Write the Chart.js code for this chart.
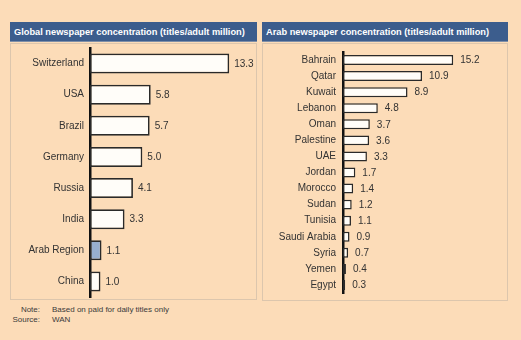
<!DOCTYPE html>
<html>
<head>
<meta charset="utf-8">
<script src="https://cdn.jsdelivr.net/npm/chart.js@4/dist/chart.umd.min.js"></script>
<style>
  html, body { margin:0; padding:0; }
  body { width:521px; height:340px; background:#fcdcb8; position:relative; overflow:hidden; font-family:"Liberation Sans", Arial, sans-serif; }
  .hdr { position:absolute; top:22px; height:20px; background:#3c5d8d; color:#fff; font-weight:bold; font-size:9.25px; line-height:20px; box-sizing:border-box; padding-left:4px; white-space:nowrap; border-bottom:1px solid #7f8fa8; }
  .panel { position:absolute; top:43px; border:1px solid #dcc6ad; box-sizing:border-box; }
  .cv { position:absolute; }
  .note { position:absolute; font-size:8px; color:#3a3a3a; white-space:nowrap; }
</style>
</head>
<body>
<div class="hdr" style="left:10px;width:247px;">Global newspaper concentration (titles/adult million)</div>
<div class="hdr" style="left:262px;width:246px;">Arab newspaper concentration (titles/adult million)</div>
<div class="panel" style="left:10px;width:247px;height:257px;"></div>
<div class="panel" style="left:262px;width:246px;height:258px;"></div>
<div class="cv" style="left:10px;top:43px;width:247px;height:257px;"><canvas id="c1" width="247" height="257"></canvas></div>
<div class="cv" style="left:262px;top:43px;width:246px;height:258px;"><canvas id="c2" width="246" height="258"></canvas></div>
<div class="note" style="left:0px;width:40px;text-align:right;top:305px;">Note:</div>
<div class="note" style="left:52px;top:305px;">Based on paid for daily titles only</div>
<div class="note" style="left:0px;width:40px;text-align:right;top:315px;">Source:</div>
<div class="note" style="left:52px;top:315px;">WAN</div>
<script>
const globalCategories = ["Switzerland","USA","Brazil","Germany","Russia","India","Arab Region","China"];
const globalValues = [13.3, 5.8, 5.7, 5.0, 4.1, 3.3, 1.1, 1.0];
const arabCategories = ["Bahrain","Qatar","Kuwait","Lebanon","Oman","Palestine","UAE","Jordan","Morocco","Sudan","Tunisia","Saudi Arabia","Syria","Yemen","Egypt"];
const arabValues = [15.2, 10.9, 8.9, 4.8, 3.7, 3.6, 3.3, 1.7, 1.4, 1.2, 1.1, 0.9, 0.7, 0.4, 0.3];
const highlight = "Arab Region";

const valueLabels = {
  id: 'valueLabels',
  afterDatasetsDraw(chart, args, opts) {
    const ctx = chart.ctx;
    const meta = chart.getDatasetMeta(0);
    ctx.save();
    ctx.font = opts.font;
    ctx.fillStyle = '#333';
    ctx.textBaseline = 'middle';
    ctx.textAlign = 'left';
    meta.data.forEach((el, i) => {
      const v = chart.data.datasets[0].data[i];
      ctx.fillText(v.toFixed(1), el.x + opts.gap, el.y + 0.5);
    });
    ctx.restore();
  }
};

function make(id, cats, vals, opt) {
  return new Chart(document.getElementById(id), {
    type: 'bar',
    data: {
      labels: cats,
      datasets: [{
        data: vals,
        backgroundColor: cats.map(c => c === highlight ? '#97afd0' : '#fffdf9'),
        borderColor: '#2a2a2a',
        borderWidth: opt.bw,
        borderSkipped: false,
        barPercentage: opt.bp,
        categoryPercentage: 1
      }]
    },
    options: {
      indexAxis: 'y',
      responsive: false,
      animation: false,
      events: [],
      layout: { padding: { top: opt.top, bottom: opt.bottom, left: 0, right: opt.right } },
      plugins: { legend: { display: false }, tooltip: { enabled: false }, valueLabels: { font: opt.vfont, gap: opt.gap } },
      scales: {
        x: { min: 0, max: opt.max, display: false },
        y: {
          grid: { display: false, drawTicks: false },
          border: { display: true, color: '#111', width: 2.5 },
          ticks: { color: '#333', font: { family: 'Liberation Sans', size: opt.fs }, padding: opt.pad, autoSkip: false },
          afterFit(s) { s.width = opt.axisX; s.paddingTop = 0; s.paddingBottom = 0; }
        }
      }
    },
    plugins: [valueLabels]
  });
}

make('c1', globalCategories, globalValues, { top: 5, bottom: 3, right: 10, max: 15, axisX: 80, fs: 10, pad: 6, bw: 1.7, bp: 0.64, vfont: '10px "Liberation Sans"', gap: 5 });
make('c2', arabCategories, arabValues, { top: 9, bottom: 8, right: 20, max: 20, axisX: 81, fs: 10, pad: 7, bw: 1.5, bp: 0.62, vfont: '10px "Liberation Sans"', gap: 7 });
</script>
</body>
</html>
